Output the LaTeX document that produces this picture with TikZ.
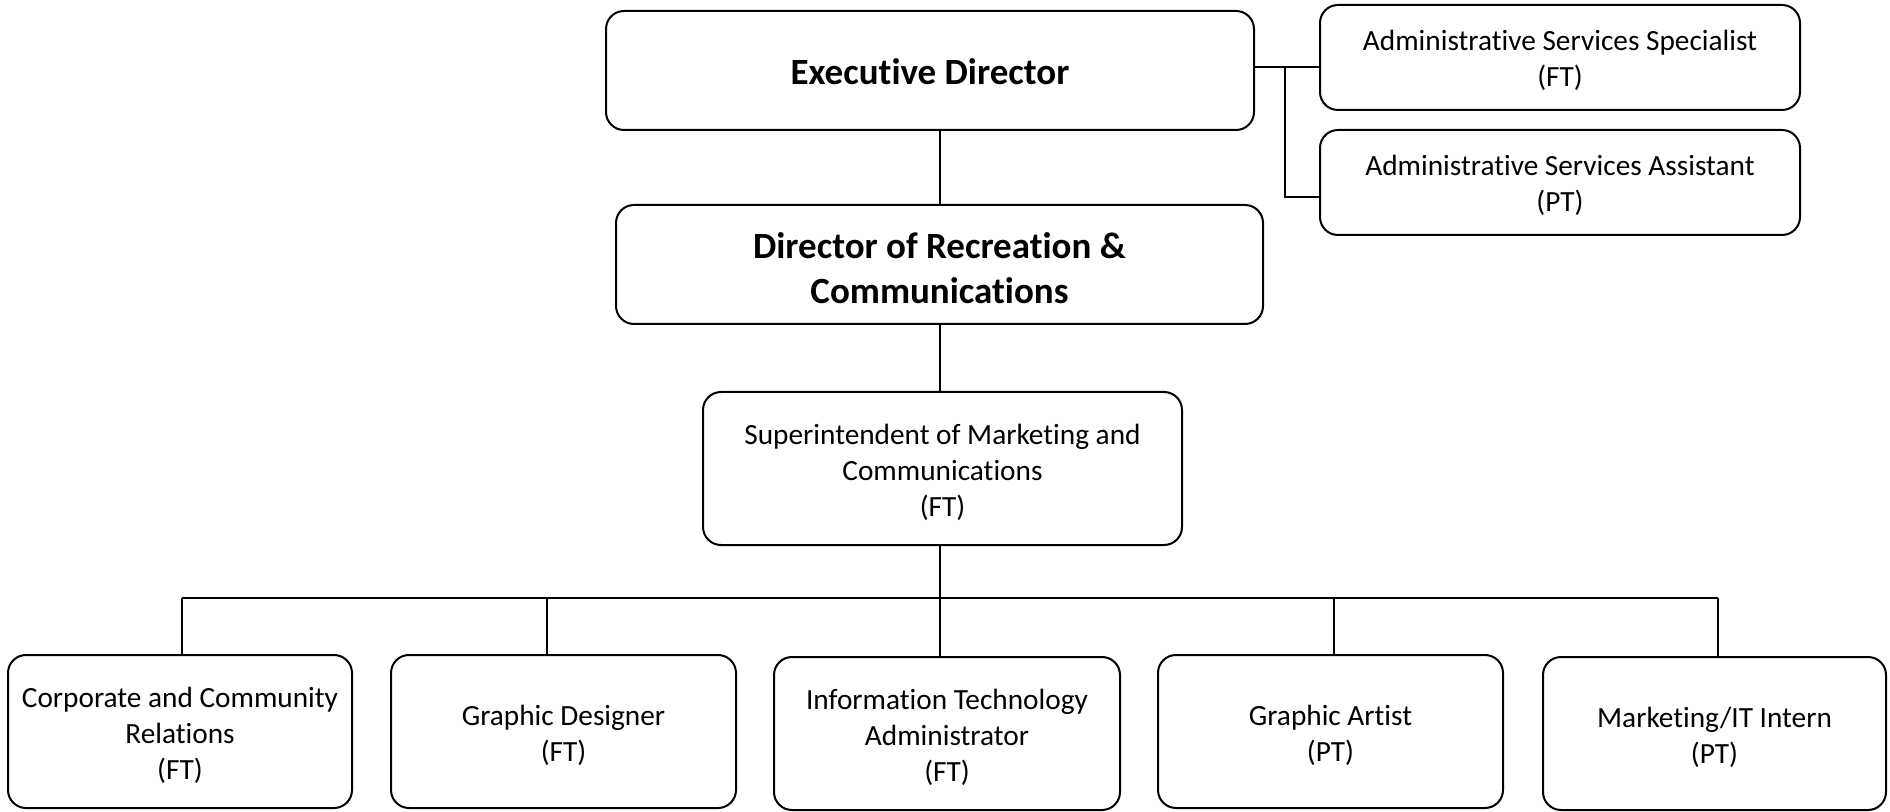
\documentclass[tikz,border=0pt]{standalone}
\usepackage{fontspec}
\setmainfont[Ligatures=NoCommon]{Carlito}
\newcommand{\tstrut}[1]{\rule{0pt}{#1}}
\begin{document}
\begin{tikzpicture}[x=0.5pt,y=-0.5pt,
  box/.style={draw=black, line width=1pt, rounded corners=9pt, align=center, inner sep=0pt, fill=white,
    font=\fontsize{14.65}{18}\selectfont},
  bigbox/.style={box, font=\fontsize{18.5}{22.5}\selectfont\bfseries},
  conn/.style={draw=black, line width=0.9pt}]
\useasboundingbox (0,0) rectangle (1890,812);

% top
\node[bigbox, minimum width=324pt, minimum height=59.5pt] (exec) at (930,70.5) {\tstrut{13.8pt}Executive Director};
\node[bigbox, minimum width=323.5pt, minimum height=59.5pt] (dir) at (939.5,264.5) {\tstrut{17pt}Director of Recreation \&\\Communications};
\node[box, minimum width=240pt, minimum height=52.5pt] (spec) at (1560,57.5) {\tstrut{13.5pt}Administrative Services Specialist\\(FT)};
\node[box, minimum width=240pt, minimum height=52.5pt] (asst) at (1560,182.5) {\tstrut{13.5pt}Administrative Services Assistant\\(PT)};
\node[box, minimum width=239.5pt, minimum height=76.5pt] (sup) at (942.5,468.5) {\tstrut{13.9pt}Superintendent of Marketing and\\Communications\\(FT)};

% bottom row
\node[box, minimum width=172pt, minimum height=76.5pt] (corp) at (180,731.5) {\tstrut{13.9pt}Corporate and Community\\Relations\\(FT)};
\node[box, minimum width=172.5pt, minimum height=76.5pt] (gd) at (563.5,731.5) {\tstrut{13.9pt}Graphic Designer\\(FT)};
\node[box, minimum width=173pt, minimum height=76.5pt] (it) at (947,733.5) {\tstrut{13.9pt}Information Technology\\Administrator\\(FT)};
\node[box, minimum width=172.5pt, minimum height=76.5pt] (ga) at (1330.5,731.5) {\tstrut{13.9pt}Graphic Artist\\(PT)};
\node[box, minimum width=171.5pt, minimum height=76.5pt] (mkt) at (1714.5,733.5) {\tstrut{13.9pt}Marketing/IT Intern\\(PT)};

% coordinates for junctions
\coordinate (sj) at (1285,67);
\coordinate (aj) at (1285,197);
\coordinate (vline) at (940,0);
\coordinate (b1) at (182,598);
\coordinate (b2) at (547,598);
\coordinate (b3) at (940,598);
\coordinate (b4) at (1334,598);
\coordinate (b5) at (1718,598);

% connectors
\draw[conn] (exec.south -| vline) -- (dir.north -| vline);
\draw[conn] (dir.south -| vline) -- (sup.north -| vline);
\draw[conn] (exec.east |- sj) -- (spec.west |- sj);
\draw[conn] (sj) -- (aj) -- (asst.west |- aj);
\draw[conn] (sup.south -| b3) -- (it.north -| b3);
\draw[conn] (b1) -- (b5);
\draw[conn] (b1) -- (corp.north -| b1);
\draw[conn] (b2) -- (gd.north -| b2);
\draw[conn] (b4) -- (ga.north -| b4);
\draw[conn] (b5) -- (mkt.north -| b5);
\end{tikzpicture}
\end{document}
